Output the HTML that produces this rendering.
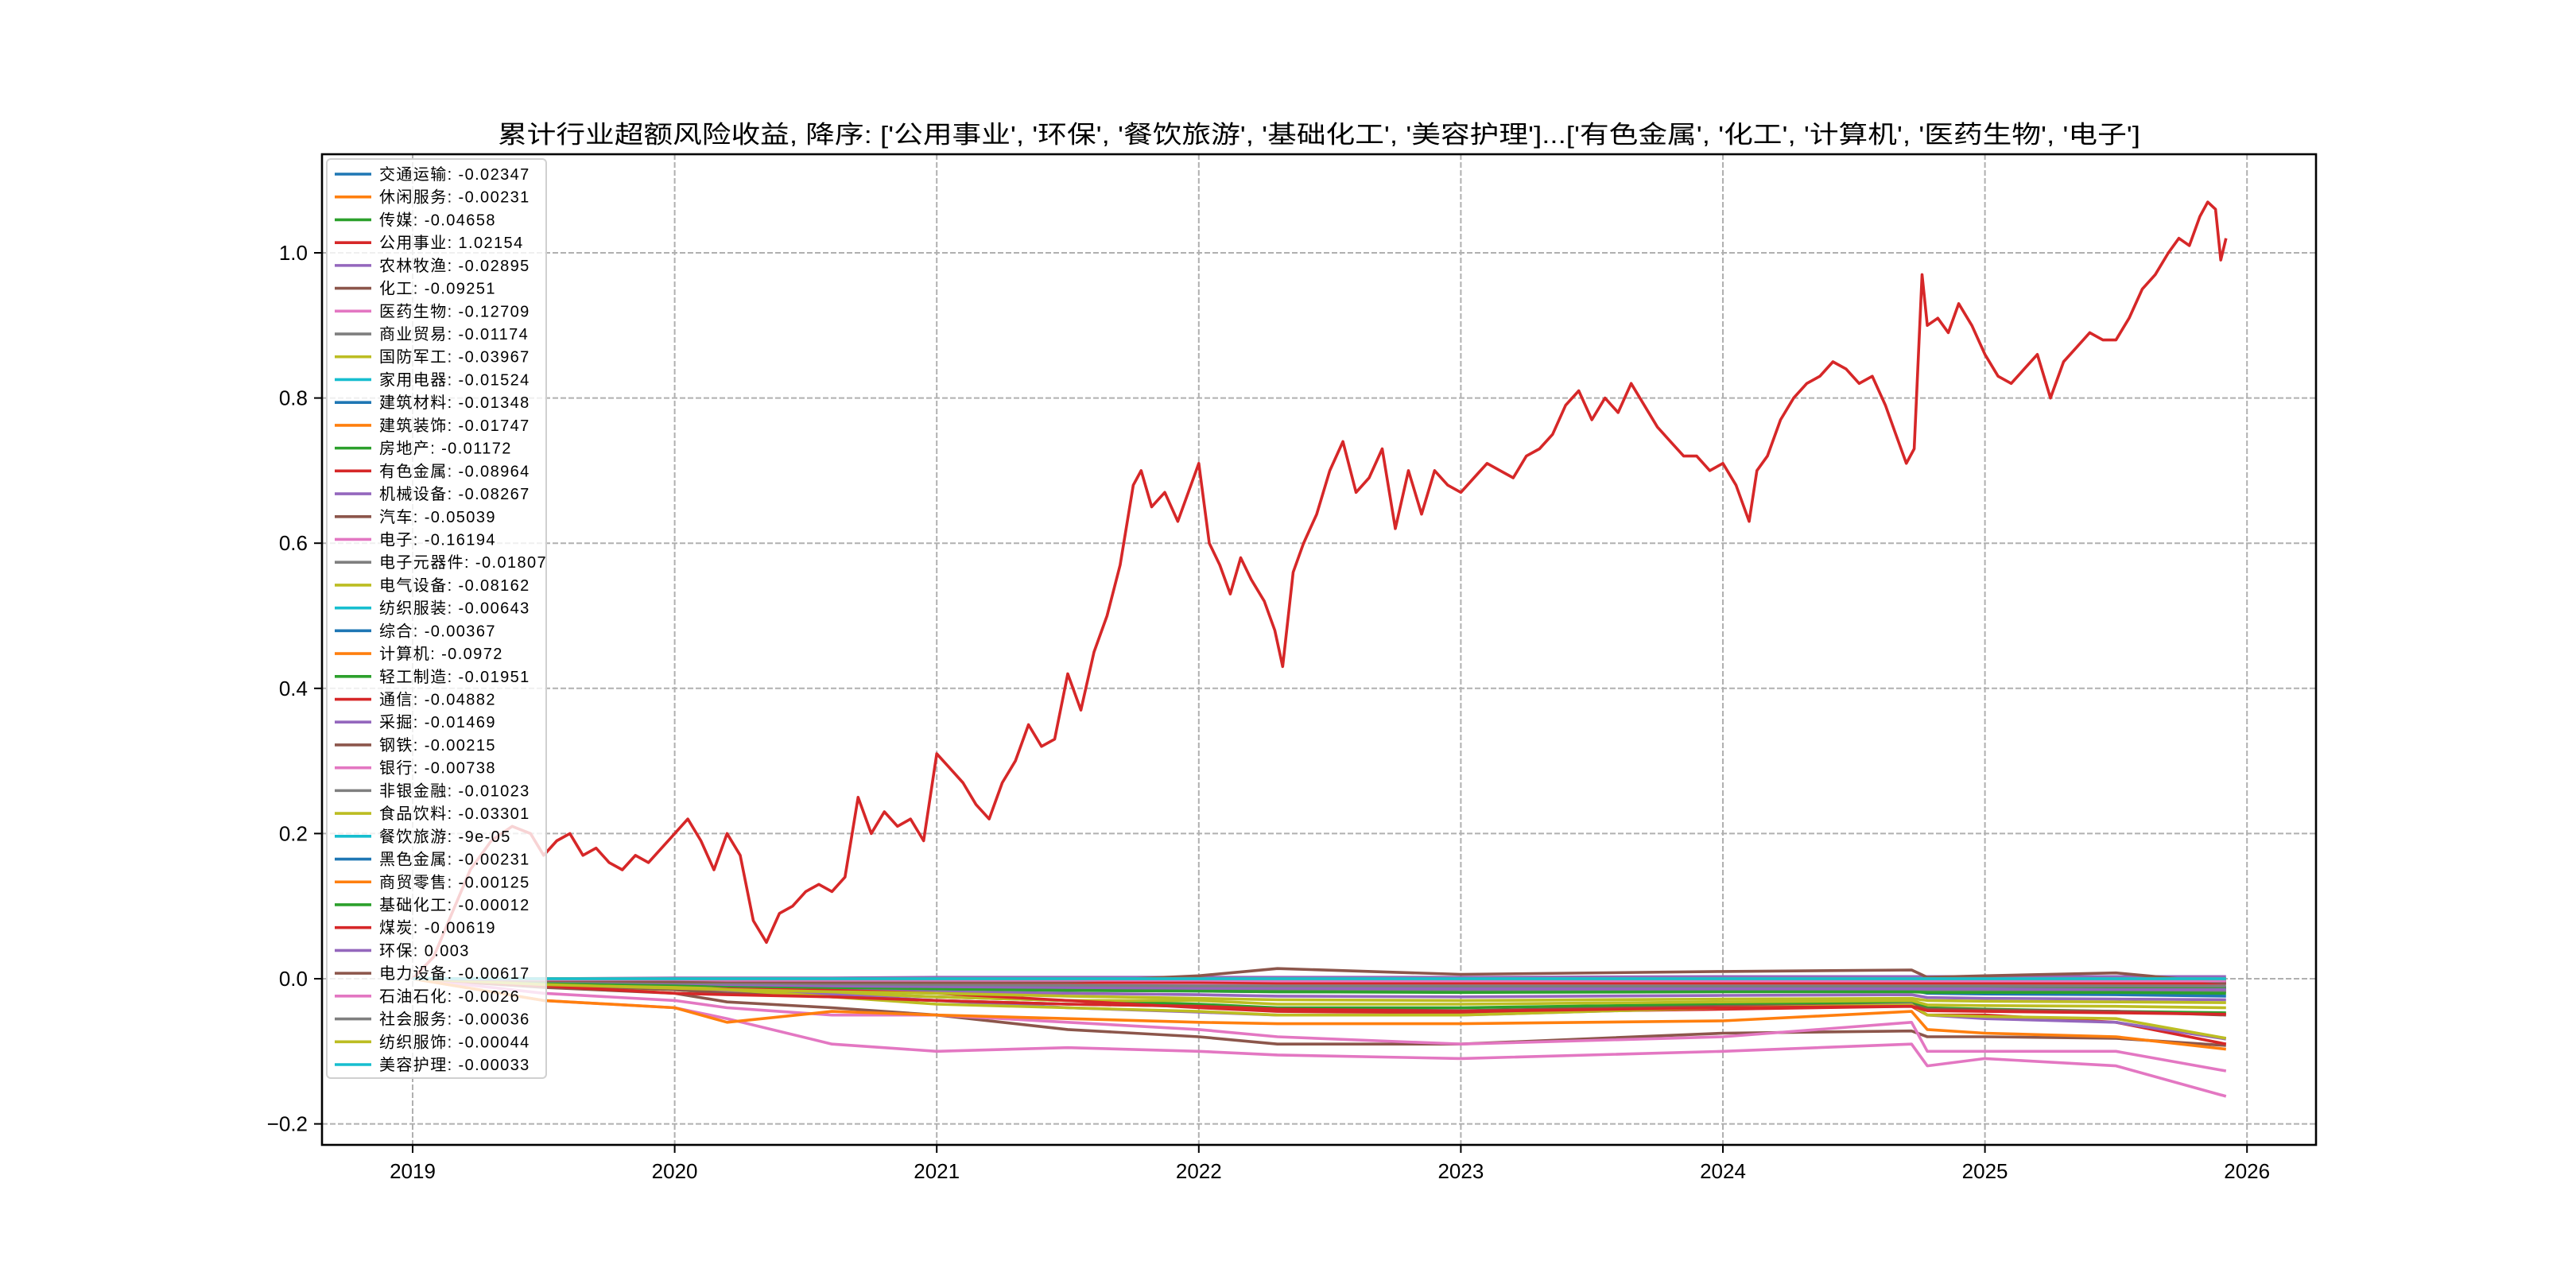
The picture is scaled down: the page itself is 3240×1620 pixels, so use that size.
<!DOCTYPE html>
<html><head><meta charset="utf-8">
<style>
html,body{margin:0;padding:0;background:#fff;}
svg{display:block;font-family:"Liberation Sans","WenQuanYi Zen Hei","Noto Sans CJK SC",sans-serif;}
</style></head>
<body>
<svg id="chart" width="3240" height="1620" viewBox="0 0 3240 1620" xmlns="http://www.w3.org/2000/svg"></svg>
<script>
// ---- data ----
const xTicks = [2019, 2020, 2021, 2022, 2023, 2024, 2025, 2026];
const yTicks = [-0.2, 0.0, 0.2, 0.4, 0.6, 0.8, 1.0];
const yTickLabels = ["−0.2", "0.0", "0.2", "0.4", "0.6", "0.8", "1.0"];
const redDates = [2019.0,2019.08,2019.15,2019.22,2019.3,2019.38,2019.45,2019.5,2019.55,2019.6,2019.65,2019.7,2019.75,2019.8,2019.85,2019.9,2019.95,2020.0,2020.05,2020.1,2020.15,2020.2,2020.25,2020.3,2020.35,2020.4,2020.45,2020.5,2020.55,2020.6,2020.65,2020.7,2020.75,2020.8,2020.85,2020.9,2020.95,2021.0,2021.05,2021.1,2021.15,2021.2,2021.25,2021.3,2021.35,2021.4,2021.45,2021.5,2021.55,2021.6,2021.65,2021.7,2021.75,2021.78,2021.82,2021.87,2021.92,2021.97,2022.0,2022.04,2022.08,2022.12,2022.16,2022.2,2022.25,2022.29,2022.32,2022.36,2022.4,2022.45,2022.5,2022.55,2022.6,2022.65,2022.7,2022.75,2022.8,2022.85,2022.9,2022.95,2023.0,2023.05,2023.1,2023.15,2023.2,2023.25,2023.3,2023.35,2023.4,2023.45,2023.5,2023.55,2023.6,2023.65,2023.7,2023.75,2023.8,2023.85,2023.9,2023.95,2024.0,2024.05,2024.1,2024.13,2024.17,2024.22,2024.27,2024.32,2024.37,2024.42,2024.47,2024.52,2024.57,2024.62,2024.66,2024.7,2024.73,2024.76,2024.78,2024.82,2024.86,2024.9,2024.95,2025.0,2025.05,2025.1,2025.15,2025.2,2025.25,2025.3,2025.35,2025.4,2025.45,2025.5,2025.55,2025.6,2025.65,2025.7,2025.74,2025.78,2025.82,2025.85,2025.88,2025.9,2025.92];
const redVals = [0.0,0.03,0.09,0.15,0.19,0.21,0.2,0.17,0.19,0.2,0.17,0.18,0.16,0.15,0.17,0.16,0.18,0.2,0.22,0.19,0.15,0.2,0.17,0.08,0.05,0.09,0.1,0.12,0.13,0.12,0.14,0.25,0.2,0.23,0.21,0.22,0.19,0.31,0.29,0.27,0.24,0.22,0.27,0.3,0.35,0.32,0.33,0.42,0.37,0.45,0.5,0.57,0.68,0.7,0.65,0.67,0.63,0.68,0.71,0.6,0.57,0.53,0.58,0.55,0.52,0.48,0.43,0.56,0.6,0.64,0.7,0.74,0.67,0.69,0.73,0.62,0.7,0.64,0.7,0.68,0.67,0.69,0.71,0.7,0.69,0.72,0.73,0.75,0.79,0.81,0.77,0.8,0.78,0.82,0.79,0.76,0.74,0.72,0.72,0.7,0.71,0.68,0.63,0.7,0.72,0.77,0.8,0.82,0.83,0.85,0.84,0.82,0.83,0.79,0.75,0.71,0.73,0.97,0.9,0.91,0.89,0.93,0.9,0.86,0.83,0.82,0.84,0.86,0.8,0.85,0.87,0.89,0.88,0.88,0.91,0.95,0.97,1.0,1.02,1.01,1.05,1.07,1.06,0.99,1.02];
const smallDates = [2019.0,2019.5,2020.0,2020.2,2020.6,2021.0,2021.5,2022.0,2022.3,2023.0,2024.0,2024.72,2024.78,2025.0,2025.5,2025.92];
const names = ["交通运输","休闲服务","传媒","公用事业","农林牧渔","化工","医药生物","商业贸易","国防军工","家用电器","建筑材料","建筑装饰","房地产","有色金属","机械设备","汽车","电子","电子元器件","电气设备","纺织服装","综合","计算机","轻工制造","通信","采掘","钢铁","银行","非银金融","食品饮料","餐饮旅游","黑色金属","商贸零售","基础化工","煤炭","环保","电力设备","石油石化","社会服务","纺织服饰","美容护理"];
const legendValues = ["-0.02347","-0.00231","-0.04658","1.02154","-0.02895","-0.09251","-0.12709","-0.01174","-0.03967","-0.01524","-0.01348","-0.01747","-0.01172","-0.08964","-0.08267","-0.05039","-0.16194","-0.01807","-0.08162","-0.00643","-0.00367","-0.0972","-0.01951","-0.04882","-0.01469","-0.00215","-0.00738","-0.01023","-0.03301","-9e-05","-0.00231","-0.00125","-0.00012","-0.00619","0.003","-0.00617","-0.0026","-0.00036","-0.00044","-0.00033"];
const s0 = [0,-0.004,-0.008,-0.01,-0.012,-0.014,-0.016,-0.017,-0.018,-0.018,-0.017,-0.016,-0.02,-0.021,-0.022,-0.024];
const s1 = [0,-0.001,-0.002,-0.002,-0.002,-0.002,-0.002,-0.002,-0.002,-0.002,-0.002,-0.002,-0.002,-0.002,-0.002,-0.002];
const s2 = [0,-0.01,-0.015,-0.02,-0.02,-0.025,-0.03,-0.035,-0.04,-0.04,-0.035,-0.033,-0.04,-0.042,-0.045,-0.047];
const s4 = [0,-0.006,-0.01,-0.012,-0.015,-0.018,-0.02,-0.022,-0.024,-0.025,-0.023,-0.022,-0.026,-0.027,-0.028,-0.029];
const s5 = [0,-0.012,-0.02,-0.032,-0.04,-0.05,-0.07,-0.08,-0.09,-0.09,-0.075,-0.072,-0.08,-0.08,-0.082,-0.092];
const s6 = [0,-0.02,-0.03,-0.04,-0.05,-0.05,-0.06,-0.07,-0.08,-0.09,-0.08,-0.06,-0.1,-0.1,-0.1,-0.127];
const s7 = [0,-0.002,-0.004,-0.005,-0.006,-0.007,-0.008,-0.009,-0.01,-0.01,-0.01,-0.01,-0.011,-0.011,-0.011,-0.012];
const s8 = [0,-0.01,-0.015,-0.018,-0.02,-0.025,-0.03,-0.03,-0.035,-0.035,-0.032,-0.03,-0.036,-0.037,-0.038,-0.04];
const s9 = [0,-0.003,-0.005,-0.006,-0.008,-0.01,-0.011,-0.012,-0.013,-0.013,-0.013,-0.013,-0.014,-0.014,-0.015,-0.015];
const s10 = [0,-0.003,-0.005,-0.006,-0.007,-0.008,-0.009,-0.01,-0.011,-0.012,-0.012,-0.012,-0.013,-0.013,-0.013,-0.013];
const s11 = [0,-0.004,-0.006,-0.008,-0.01,-0.011,-0.012,-0.013,-0.014,-0.015,-0.015,-0.015,-0.016,-0.016,-0.017,-0.017];
const s12 = [0,-0.002,-0.004,-0.005,-0.006,-0.007,-0.008,-0.009,-0.01,-0.01,-0.01,-0.01,-0.011,-0.011,-0.012,-0.012];
const s13 = [0,-0.008,-0.012,-0.014,-0.016,-0.02,-0.03,-0.04,-0.045,-0.047,-0.042,-0.038,-0.05,-0.05,-0.06,-0.09];
const s14 = [0,-0.006,-0.012,-0.016,-0.022,-0.03,-0.04,-0.046,-0.05,-0.05,-0.04,-0.035,-0.05,-0.055,-0.06,-0.083];
const s15 = [0,-0.008,-0.015,-0.02,-0.025,-0.03,-0.035,-0.038,-0.042,-0.044,-0.038,-0.036,-0.042,-0.043,-0.045,-0.05];
const s16 = [0,-0.03,-0.04,-0.055,-0.09,-0.1,-0.095,-0.1,-0.105,-0.11,-0.1,-0.09,-0.12,-0.11,-0.12,-0.162];
const s17 = [0,-0.004,-0.007,-0.009,-0.011,-0.013,-0.014,-0.015,-0.016,-0.017,-0.016,-0.016,-0.017,-0.017,-0.018,-0.018];
const s18 = [0,-0.005,-0.01,-0.015,-0.025,-0.035,-0.04,-0.045,-0.05,-0.05,-0.04,-0.036,-0.05,-0.052,-0.055,-0.082];
const s19 = [0,-0.002,-0.003,-0.004,-0.005,-0.005,-0.006,-0.006,-0.006,-0.006,-0.006,-0.006,-0.006,-0.006,-0.006,-0.006];
const s20 = [0,-0.001,-0.002,-0.002,-0.003,-0.003,-0.003,-0.003,-0.004,-0.004,-0.004,-0.004,-0.004,-0.004,-0.004,-0.004];
const s21 = [0,-0.03,-0.04,-0.06,-0.045,-0.05,-0.055,-0.06,-0.062,-0.062,-0.058,-0.045,-0.07,-0.075,-0.08,-0.097];
const s22 = [0,-0.005,-0.008,-0.01,-0.012,-0.014,-0.016,-0.017,-0.018,-0.019,-0.018,-0.018,-0.019,-0.019,-0.019,-0.02];
const s23 = [0,-0.01,-0.02,-0.022,-0.025,-0.03,-0.035,-0.038,-0.042,-0.045,-0.04,-0.038,-0.044,-0.045,-0.047,-0.049];
const s24 = [0,-0.003,-0.006,-0.008,-0.01,-0.011,-0.012,-0.013,-0.013,-0.014,-0.014,-0.014,-0.014,-0.014,-0.015,-0.015];
const s25 = [0,-0.001,-0.001,-0.002,-0.002,-0.002,-0.002,-0.002,-0.002,-0.002,-0.002,-0.002,-0.002,-0.002,-0.002,-0.002];
const s26 = [0,-0.002,-0.003,-0.004,-0.005,-0.006,-0.006,-0.007,-0.007,-0.007,-0.007,-0.007,-0.007,-0.007,-0.007,-0.007];
const s27 = [0,-0.003,-0.005,-0.006,-0.007,-0.008,-0.009,-0.01,-0.01,-0.01,-0.01,-0.01,-0.01,-0.01,-0.01,-0.01];
const s28 = [0,-0.008,-0.013,-0.015,-0.018,-0.02,-0.024,-0.027,-0.029,-0.03,-0.028,-0.027,-0.03,-0.031,-0.032,-0.033];
const s29 = [0,0,0,0,0,0,0,0,0,0,0,0,0,0,0,0];
const s30 = [0,-0.001,-0.001,-0.002,-0.002,-0.002,-0.002,-0.002,-0.002,-0.002,-0.002,-0.002,-0.002,-0.002,-0.002,-0.002];
const s31 = [0,0,-0.001,-0.001,-0.001,-0.001,-0.001,-0.001,-0.001,-0.001,-0.001,-0.001,-0.001,-0.001,-0.001,-0.001];
const s32 = [0,0,0,0,0,0,0,0,0,0,0,0,0,0,0,0];
const s33 = [0,-0.002,-0.003,-0.004,-0.004,-0.005,-0.005,-0.005,-0.006,-0.006,-0.006,-0.006,-0.006,-0.006,-0.006,-0.006];
const s34 = [0,0,0.001,0.001,0.001,0.002,0.002,0.002,0.002,0.002,0.003,0.003,0.003,0.003,0.003,0.003];
const s35 = [0,-0.002,-0.004,-0.004,-0.005,-0.005,-0.004,0.004,0.014,0.006,0.01,0.012,0.002,0.004,0.008,-0.006];
const s36 = [0,-0.001,-0.001,-0.002,-0.002,-0.002,-0.002,-0.002,-0.003,-0.003,-0.003,-0.003,-0.003,-0.003,-0.003,-0.003];
const s37 = [0,0,0,0,0,0,0,0,0,0,0,0,0,0,0,0];
const s38 = [0,0,0,0,0,0,0,0,0,0,0,0,0,0,0,0];
const s39 = [0,0,0,0,0,0,0,0,0,0,0,0,0,0,0,0];
const smallSeries = {0:s0,1:s1,2:s2,4:s4,5:s5,6:s6,7:s7,8:s8,9:s9,10:s10,11:s11,12:s12,13:s13,14:s14,15:s15,16:s16,17:s17,18:s18,19:s19,20:s20,21:s21,22:s22,23:s23,24:s24,25:s25,26:s26,27:s27,28:s28,29:s29,30:s30,31:s31,32:s32,33:s33,34:s34,35:s35,36:s36,37:s37,38:s38,39:s39};
const colors = ["#1f77b4","#ff7f0e","#2ca02c","#d62728","#9467bd","#8c564b","#e377c2","#7f7f7f","#bcbd22","#17becf"];

// ---- layout ----
const L = 405, R = 2913, T = 194, B = 1440;
const X0 = 519, XPER = 329.6;
const Y0 = 1231, YPER = 913;
const xs = v => X0 + (v - 2019) * XPER;
const ys = v => Y0 - v * YPER;
const NS = "http://www.w3.org/2000/svg";
const svg = document.getElementById("chart");
function mk(tag, attrs, parent) {
  const e = document.createElementNS(NS, tag);
  for (const k in attrs) e.setAttribute(k, attrs[k]);
  (parent || svg).appendChild(e);
  return e;
}

// grid
const grid = mk("g", {});


xTicks.forEach(t => {
  const l = mk("line", {x1: xs(t), x2: xs(t), y1: T, y2: B, stroke: "#b0b0b0", "stroke-width": 2, "stroke-dasharray": "7,3"}, grid);
  
  
});
yTicks.forEach(t => {
  const l = mk("line", {x1: L, x2: R, y1: ys(t), y2: ys(t), stroke: "#b0b0b0", "stroke-width": 2, "stroke-dasharray": "7,3"}, grid);
  
  
});

// series
const plot = mk("g", {});


for (let i = 0; i < names.length; i++) {
  let d;
  if (i === 3) d = redDates.map((t, k) => (k ? "L" : "M") + xs(t).toFixed(1) + "," + ys(redVals[k]).toFixed(1)).join("");
  else d = smallDates.map((t, k) => (k ? "L" : "M") + xs(t).toFixed(1) + "," + ys(smallSeries[i][k]).toFixed(1)).join("");
  const p = mk("path", {d: d, fill: "none", stroke: colors[i % 10], "stroke-width": 3.6, "stroke-linejoin": "round"}, plot);
  
  
}

// axes frame
const frame = mk("rect", {x: L, y: T, width: R - L, height: B - T, fill: "none", stroke: "#000", "stroke-width": 2.6});



// ticks
xTicks.forEach(t => {
  const l = mk("line", {x1: xs(t), x2: xs(t), y1: B, y2: B + 10, stroke: "#000", "stroke-width": 2});
  
  
  const tx = mk("text", {x: xs(t), y: B + 42, "font-size": 26, "text-anchor": "middle", fill: "#000"});
  tx.textContent = String(t);
  
  
});
yTicks.forEach((t, k) => {
  const l = mk("line", {x1: L - 10, x2: L, y1: ys(t), y2: ys(t), stroke: "#000", "stroke-width": 2});
  
  
  const tx = mk("text", {x: L - 18, y: ys(t) + 9, "font-size": 26, "text-anchor": "end", fill: "#000"});
  tx.textContent = yTickLabels[k];
  
  
});

// title
const title = mk("text", {x: 1659, y: 180, "font-size": 31, "text-anchor": "middle", fill: "#000", textLength: 2066, lengthAdjust: "spacingAndGlyphs"});
title.textContent = "累计行业超额风险收益,   降序: ['公用事业', '环保', '餐饮旅游', '基础化工', '美容护理']...['有色金属', '化工', '计算机', '医药生物', '电子']";



// legend
const lg = mk("g", {});


const lbox = mk("rect", {x: 411, y: 200, width: 276, height: 1156, rx: 5, fill: "#fff", "fill-opacity": 0.8, stroke: "#d0d0d0", "stroke-width": 2}, lg);


const LSTEP = (1339 - 219) / 39;
for (let i = 0; i < names.length; i++) {
  const y = 219 + i * LSTEP;
  const g = mk("g", {}, lg);
  
  
  mk("line", {x1: 421, x2: 467, y1: y, y2: y, stroke: colors[i % 10], "stroke-width": 3.6}, g);
  const tx = mk("text", {x: 477, y: y + 7, "font-size": 20, fill: "#000", "letter-spacing": "1.4"}, g);
  tx.textContent = names[i] + ": " + legendValues[i];
}
</script>
</body></html>
